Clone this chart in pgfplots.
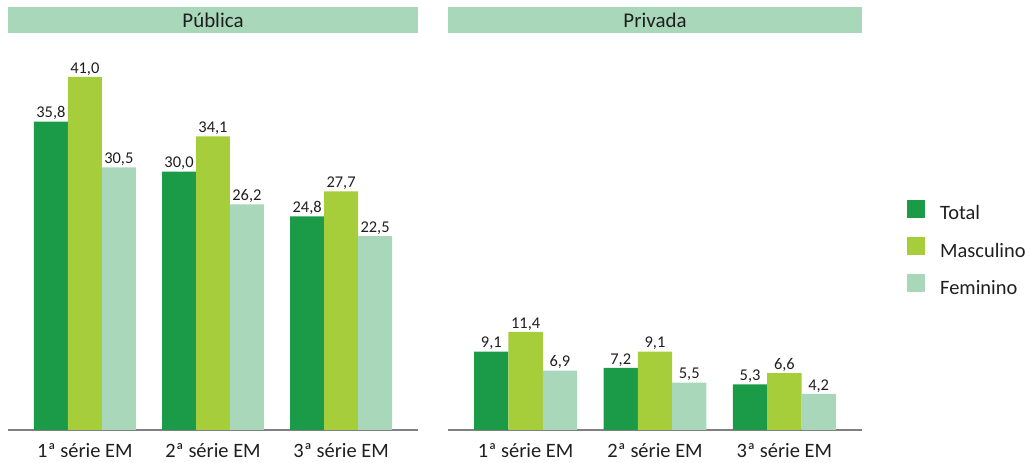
\documentclass[border=0pt]{standalone}
\usepackage{fontspec}
\setmainfont{Carlito}
\usepackage{pgfplots}
\pgfplotsset{compat=1.18}
\usepackage{pgfplotstable}
\definecolor{cTotal}{HTML}{1B9A47}
\definecolor{cMasc}{HTML}{A6CE3A}
\definecolor{cFem}{HTML}{A8D8B9}
\definecolor{ctext}{HTML}{1F1F1F}
\definecolor{caxis}{HTML}{808080}

\pgfplotstableread{
x total masc fem
0 35.8 41.0 30.5
1 30.0 34.1 26.2
2 24.8 27.7 22.5
}\publica
\pgfplotstableread{
x total masc fem
0 9.1 11.4 6.9
1 7.2 9.1 5.5
2 5.3 6.6 4.2
}\privada

\pgfplotsset{
 panel/.style={
  scale only axis, anchor=south west,
  height=387.5bp,
  ymin=0, ymax=45,
  xmin=-0.6, xmax=2.6,
  axis y line=none,
  axis x line*=bottom,
  x axis line style={-, draw=caxis, line width=1.2bp},
  xtick={0,1,2},
  xticklabels={1ª série EM, 2ª série EM, 3ª série EM},
  major tick length=0pt,
  xticklabel style={font=\fontsize{20.5}{23}\selectfont, text=ctext, yshift=-10bp},
  ybar=0pt, bar width=0.265,
  nodes near coords,
  every node near coord/.append style={font=\fontsize{16.5}{19}\selectfont, text=ctext, inner sep=1.5bp, /pgf/number format/.cd, fixed, fixed zerofill, precision=1, use comma, assume math mode=true},
  title style={at={(0.5,1)}, anchor=south, yshift=3.5bp, fill=cFem, minimum height=26bp, inner sep=0pt, font=\fontsize{21}{24}\selectfont, text=ctext},
 },
 sq/.style={legend image code/.code={\fill[##1] (0bp,-2.7bp) rectangle (18bp,15.3bp);}},
}

\begin{document}
\begin{tikzpicture}
\useasboundingbox (0,0) rectangle (1032bp,463bp);
\begin{axis}[panel, at={(8bp,33bp)}, width=410bp, title={Pública},
  title style={minimum width=410bp}]
\addplot[fill=cTotal, draw=none, bar shift=-0.265] table[x=x, y=total] {\publica};
\addplot[fill=cMasc, draw=none, bar shift=0] table[x=x, y=masc] {\publica};
\addplot[fill=cFem, draw=none, bar shift=0.265] table[x=x, y=fem] {\publica};
\end{axis}
\begin{axis}[panel, at={(448bp,33bp)}, width=414bp, title={Privada},
  title style={minimum width=414bp},
  legend style={at={(1,0.472)}, anchor=west, xshift=42bp, yshift=-2bp, draw=none, fill=none,
    font=\fontsize{20.5}{23}\selectfont, text=ctext, legend cell align=left,
    nodes={inner sep=0pt, text height=14bp, text depth=4bp}, row sep=13bp,
    /tikz/every odd column/.append style={column sep=15bp}}]
\addplot[fill=cTotal, draw=none, bar shift=-0.265, sq] table[x=x, y=total] {\privada};
\addplot[fill=cMasc, draw=none, bar shift=0, sq] table[x=x, y=masc] {\privada};
\addplot[fill=cFem, draw=none, bar shift=0.265, sq] table[x=x, y=fem] {\privada};
\legend{Total, Masculino, Feminino}
\end{axis}
\end{tikzpicture}
\end{document}
